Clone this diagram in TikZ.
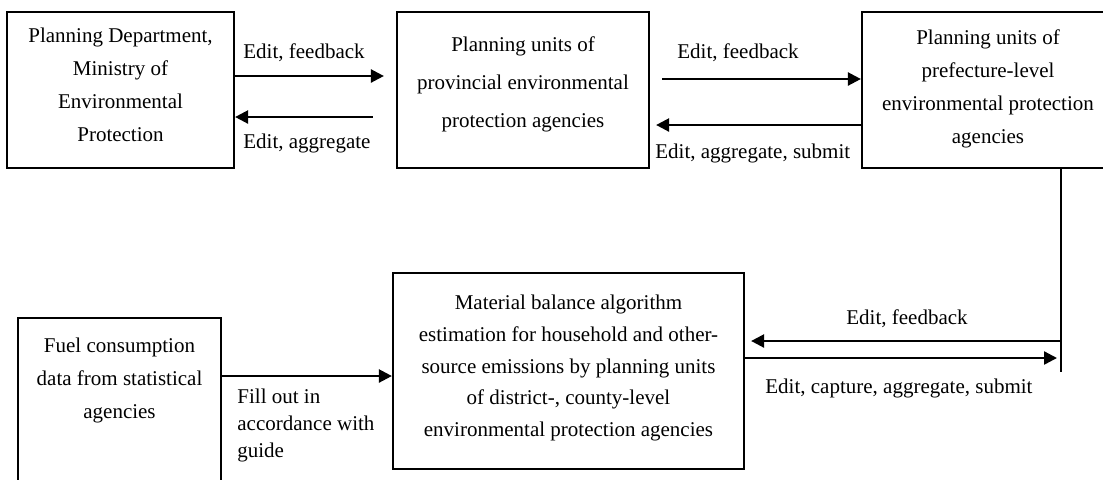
\documentclass[tikz,border=0pt]{standalone}
\usepackage{fontspec}
\setmainfont{Liberation Serif}
\usetikzlibrary{arrows.meta}
\begin{document}
\begin{tikzpicture}[x=0.5pt,y=-0.5pt,
  box/.style={draw, line width=1.1pt, inner sep=0pt},
  txt/.style={align=center, inner sep=0pt, font=\fontsize{10.5}{16.5}\selectfont},
  arr/.style={line width=1.2pt, -{Triangle[length=6.5pt,width=6.5pt]}},
  plain/.style={line width=1.2pt},
  lbl/.style={font=\fontsize{10.5}{13.5}\selectfont, inner sep=0pt}]
\useasboundingbox (0,0) rectangle (1103,479);
\clip (0,0) rectangle (1103,479);
% boxes
\node[box, minimum width=113.5pt, minimum height=78pt] (mep) at (120.5,90) {};
\node[txt] (meptxt) at (120.5,85) {Planning Department,\\Ministry of\\Environmental\\Protection};
\node[box, minimum width=126pt, minimum height=78pt] (prov) at (523,90) {};
\node[txt, font=\fontsize{10.5}{19}\selectfont] (provtxt) at (523,84) {Planning units of\\provincial environmental\\protection agencies};
\node[box, minimum width=126pt, minimum height=78pt] (pref) at (988,90) {};
\node[txt] (preftxt) at (988,89) {Planning units of\\prefecture-level\\environmental protection\\agencies};
\node[box, minimum width=175.5pt, minimum height=98pt] (mat) at (568.5,371) {};
\node[txt, font=\fontsize{10.5}{15.9}\selectfont] (mattxt) at (568.5,368) {Material balance algorithm\\estimation for household and other-\\source emissions by planning units\\of district-, county-level\\environmental protection agencies};
\node[box, minimum width=101.5pt, minimum height=106pt] (fuel) at (119.5,424) {};
\node[txt] (fueltxt) at (119.5,380) {Fuel consumption\\data from statistical\\agencies};
% top arrows
\draw[arr] (mep.east |- 0,76) -- ([xshift=-6pt]prov.west |- 0,76);
\draw[arr] ([xshift=-11.5pt]prov.west |- 0,117) -- (mep.east |- 0,117);
\draw[arr] ([xshift=6pt]prov.east |- 0,79) -- (pref.west |- 0,79);
\draw[arr] (pref.west |- 0,125) -- ([xshift=3pt]prov.east |- 0,125);
\node[lbl, anchor=west] (l1) at (243,53) {Edit, feedback};
\node[lbl, anchor=west] (l2) at (243,143) {Edit, aggregate};
\node[lbl, anchor=west] (l3) at (677,53) {Edit, feedback};
\node[lbl, anchor=west] (l4) at (655,153) {Edit, aggregate, submit};
% right side
\coordinate (rv) at (1061,372);
\draw[plain] (pref.south -| rv) -- (rv);
\draw[arr] (rv |- 0,341) -- ([xshift=3pt]mat.east |- 0,341);
\draw[arr] (mat.east |- 0,358) -- ([xshift=-2pt]rv |- 0,358);
\node[lbl] (l5) at (907,319) {Edit, feedback};
\node[lbl, anchor=west] (l6) at (765,388) {Edit, capture, aggregate, submit};
% fuel arrow
\draw[arr] (fuel.east |- 0,376) -- (mat.west |- 0,376);
\node[lbl, anchor=north west, align=left] (l7) at (237,389) {Fill out in\\accordance with\\guide};
\end{tikzpicture}
\end{document}
